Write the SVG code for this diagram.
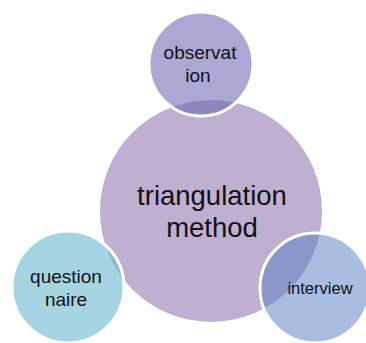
<svg xmlns="http://www.w3.org/2000/svg" width="366" height="343" viewBox="0 0 366 343">
  <defs>
    <style>
      .lbl { font-family: "Liberation Sans", Arial, sans-serif; fill: #111; text-anchor: middle; }
      .ring { stroke: #ffffff; stroke-width: 3; fill: none; }
    </style>
    <clipPath id="hub-clip">
      <circle cx="211" cy="211" r="111"/>
    </clipPath>
  </defs>

  <rect width="366" height="343" fill="#ffffff"/>

  <!-- central hub -->
  <g id="hub">
    <circle cx="211" cy="211" r="111" fill="#BFB0D2"/>
    <text class="lbl" x="212" y="205" font-size="27.5">triangulation</text>
    <text class="lbl" x="212" y="237" font-size="27.5">method</text>
  </g>

  <!-- satellite: observation -->
  <g id="observation">
    <circle cx="201" cy="64" r="52" fill="#ACA8D4"/>
    <circle cx="201" cy="64" r="52" fill="#8E86BF" clip-path="url(#hub-clip)"/>
    <circle class="ring" cx="201" cy="64" r="52"/>
    <text class="lbl" x="200" y="59" font-size="19">observat</text>
    <text class="lbl" x="198" y="82" font-size="19">ion</text>
  </g>

  <!-- satellite: interview -->
  <g id="interview">
    <circle cx="315" cy="288" r="55" fill="#A8BDE0"/>
    <circle cx="315" cy="288" r="55" fill="#8A97C8" clip-path="url(#hub-clip)"/>
    <circle class="ring" cx="315" cy="288" r="55"/>
    <text class="lbl" x="320" y="294" font-size="16.5">interview</text>
  </g>

  <!-- satellite: questionnaire -->
  <g id="questionnaire">
    <circle cx="68" cy="287" r="56" fill="#A5D5E2"/>
    <circle cx="68" cy="287" r="56" fill="#8FB6D6" clip-path="url(#hub-clip)"/>
    <circle class="ring" cx="68" cy="287" r="56"/>
    <text class="lbl" x="66" y="283" font-size="19">question</text>
    <text class="lbl" x="66" y="306" font-size="19">naire</text>
  </g>

  <g id="connectors"/>
</svg>
